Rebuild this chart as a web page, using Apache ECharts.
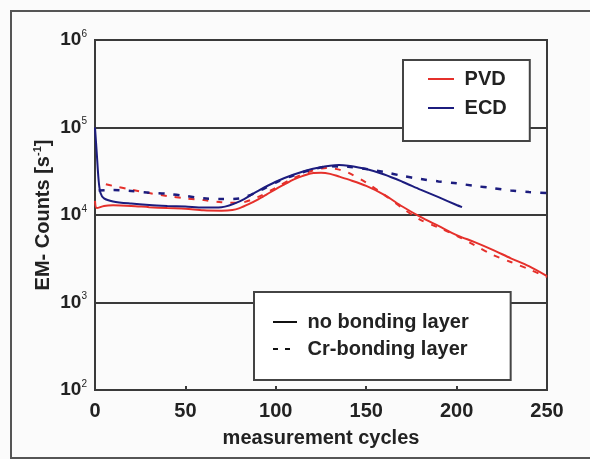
<!DOCTYPE html>
<html>
<head>
<meta charset="utf-8">
<script src="https://cdn.jsdelivr.net/npm/echarts@6/dist/echarts.min.js"></script>
<style>
  html, body { margin: 0; padding: 0; background: #fbfbfb; }
  #chart { width: 590px; height: 459px; }
</style>
</head>
<body>
<div id="chart"></div>
<script>
// PVD, no bonding layer (red solid)
var pvdNoneX = [0, 1, 5, 10, 20, 30, 40, 50, 60, 70, 76, 80, 85, 90, 95, 100, 105, 110, 115, 120, 125, 130, 135, 140, 150, 160, 170, 180, 190, 200, 210, 220, 230, 240, 250];
var pvdNoneY = [14500, 12000, 12700, 12900, 12700, 12300, 12000, 11800, 11300, 11200, 11400, 12000, 13300, 15000, 17200, 19800, 22500, 25500, 28000, 30000, 30300, 29500, 27500, 25500, 21500, 17000, 12500, 9500, 7500, 5900, 4900, 4000, 3200, 2600, 2000];
// PVD, Cr-bonding layer (red dashed)
var pvdCrX = [6, 10, 20, 30, 40, 50, 60, 70, 80, 90, 100, 110, 120, 128, 135, 140, 150, 160, 170, 180, 190, 200, 210, 220, 230, 240, 250];
var pvdCrY = [22500, 21500, 19500, 17800, 16500, 15500, 14800, 14000, 13800, 16000, 20500, 26500, 32000, 34500, 33000, 30500, 23500, 17000, 12000, 8800, 7200, 5800, 4500, 3500, 2900, 2400, 1950];
// ECD, no bonding layer (blue solid)
var ecdNoneX = [0, 1, 2, 3, 5, 10, 20, 30, 40, 50, 60, 70, 80, 90, 100, 110, 120, 130, 135, 140, 150, 160, 170, 180, 190, 200, 203];
var ecdNoneY = [100000, 50000, 25000, 18000, 15500, 14300, 13500, 13000, 12700, 12500, 12200, 12300, 14300, 18800, 24000, 29000, 33500, 36500, 37200, 36500, 33500, 29000, 24000, 19500, 16000, 13000, 12300];
// ECD, Cr-bonding layer (blue dashed)
var ecdCrX = [2, 10, 20, 30, 40, 50, 60, 70, 80, 90, 100, 110, 120, 130, 140, 150, 160, 170, 180, 190, 200, 210, 220, 230, 240, 250];
var ecdCrY = [19000, 19300, 18800, 18000, 17500, 16500, 15500, 15200, 15500, 18500, 23500, 28500, 33000, 36000, 35500, 33500, 31000, 28000, 25800, 24200, 23000, 21500, 20300, 19000, 18300, 17800];

var xTicks = [0, 50, 100, 150, 200, 250];
var yDecades = [2, 3, 4, 5, 6];

function pairs(xs, ys) {
  return xs.map(function (x, i) { return [x, ys[i]]; });
}

var RED = '#e5302b';
var BLUE = '#1c1c7e';
var FONT = '"Liberation Sans", Arial, sans-serif';
var TXT = '#222';

var myChart = echarts.init(document.getElementById('chart'));
var option = {
  animation: false,
  backgroundColor: '#fbfbfb',
  textStyle: { fontFamily: FONT },
  graphic: [{
    type: 'rect',
    shape: { x: 11, y: 11, width: 600, height: 447 },
    style: { fill: 'none', stroke: '#555', lineWidth: 2 },
    silent: true
  }],
  grid: {
    left: 95, top: 40, right: 43, bottom: 69,
    show: true, borderColor: '#3a3a3a', borderWidth: 2
  },
  legend: [{
    orient: 'vertical',
    left: 403, top: 60,
    data: ['PVD', 'ECD'],
    padding: [9, 23, 23, 24],
    itemWidth: 26, itemHeight: 14, itemGap: 9,
    itemStyle: { opacity: 0 },
    backgroundColor: '#fff', borderColor: '#444', borderWidth: 2,
    formatter: function (n) { return ' ' + n; },
    textStyle: { fontSize: 20, fontWeight: 'bold', color: TXT, fontFamily: FONT }
  }, {
    orient: 'vertical',
    left: 254, top: 292,
    data: ['no bonding layer', 'Cr-bonding layer'],
    padding: [20, 42, 21, 18],
    itemWidth: 24, itemHeight: 14, itemGap: 7,
    itemStyle: { opacity: 0 },
    backgroundColor: '#fff', borderColor: '#444', borderWidth: 2,
    formatter: function (n) { return ' ' + n; },
    textStyle: { fontSize: 20, fontWeight: 'bold', color: TXT, fontFamily: FONT }
  }],
  xAxis: {
    type: 'value',
    min: 0, max: 250, interval: 50,
    name: 'measurement cycles',
    nameLocation: 'middle',
    nameGap: 38,
    nameTextStyle: { fontSize: 20, fontWeight: 'bold', color: TXT, fontFamily: FONT },
    axisLine: { show: false },
    axisTick: { show: true, inside: true, length: 4, lineStyle: { color: '#3a3a3a', width: 2 } },
    splitLine: { show: false },
    axisLabel: {
      margin: 11, fontSize: 20, fontWeight: 'bold', color: TXT, fontFamily: FONT,
      formatter: function (v) { return xTicks.indexOf(v) >= 0 ? String(v) : ''; }
    }
  },
  yAxis: {
    type: 'log',
    logBase: 10,
    min: Math.pow(10, yDecades[0]),
    max: Math.pow(10, yDecades[yDecades.length - 1]),
    splitNumber: 4,
    name: '{a|EM- Counts [s}{s|-1}{a|]}',
    nameLocation: 'middle',
    nameGap: 41,
    nameMoveOverlap: false,
    nameTextStyle: {
      rich: {
        a: { fontSize: 20, fontWeight: 'bold', color: TXT, fontFamily: FONT, lineHeight: 22 },
        s: { fontSize: 11, fontWeight: 'bold', color: TXT, fontFamily: FONT, verticalAlign: 'top', lineHeight: 22 }
      }
    },
    axisLine: { show: false },
    axisTick: { show: false },
    minorTick: { show: false },
    splitLine: { show: true, lineStyle: { color: '#3a3a3a', width: 2 } },
    axisLabel: {
      margin: 8,
      formatter: function (v) {
        return '{b|10}{s|' + Math.round(Math.log10(v)) + '}';
      },
      rich: {
        b: { fontSize: 19, fontWeight: 'bold', color: TXT, fontFamily: FONT, lineHeight: 22 },
        s: { fontSize: 10, color: TXT, fontFamily: FONT, verticalAlign: 'top', lineHeight: 22 }
      }
    }
  },
  series: [{
    name: 'PVD', type: 'line', symbol: 'none', smooth: 0.3,
    data: pairs(pvdNoneX, pvdNoneY),
    lineStyle: { color: RED, width: 2 }, itemStyle: { color: RED }
  }, {
    name: 'PVD Cr', type: 'line', symbol: 'none', smooth: 0.3,
    data: pairs(pvdCrX, pvdCrY),
    lineStyle: { color: RED, width: 2, type: [6, 8] }, itemStyle: { color: RED }
  }, {
    name: 'ECD Cr', type: 'line', symbol: 'none', smooth: 0.3,
    data: pairs(ecdCrX, ecdCrY),
    lineStyle: { color: BLUE, width: 2.5, type: [6, 9] }, itemStyle: { color: BLUE }
  }, {
    name: 'ECD', type: 'line', symbol: 'none', smooth: 0.3,
    data: pairs(ecdNoneX, ecdNoneY),
    lineStyle: { color: BLUE, width: 2 }, itemStyle: { color: BLUE }
  }, {
    name: 'no bonding layer', type: 'line', symbol: 'none', data: [],
    lineStyle: { color: '#111', width: 2 }, itemStyle: { color: '#111' }
  }, {
    name: 'Cr-bonding layer', type: 'line', symbol: 'none', data: [],
    lineStyle: { color: '#111', width: 2, type: [5, 7] }, itemStyle: { color: '#111' }
  }]
};
myChart.setOption(option);
window.addEventListener('resize', function () { myChart.resize(); });
</script>
</body>
</html>
